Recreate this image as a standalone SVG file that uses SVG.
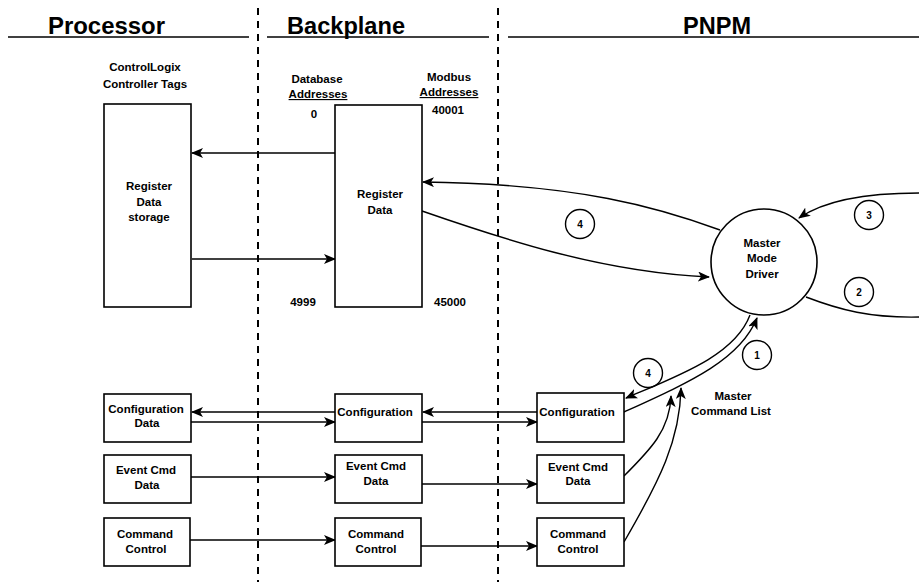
<svg xmlns="http://www.w3.org/2000/svg" width="919" height="582" viewBox="0 0 919 582">
<defs>
<style>
.t{font-family:"Liberation Sans",Arial,sans-serif;font-weight:bold;font-size:11.5px;fill:#000;text-anchor:middle}
.n{font-family:"Liberation Sans",Arial,sans-serif;font-weight:bold;font-size:10px;fill:#000;text-anchor:middle}
.h{font-family:"Liberation Sans",Arial,sans-serif;font-weight:bold;font-size:23px;fill:#000}
.box{fill:#fff;stroke:#000;stroke-width:1.6}
.c{fill:none;stroke:#000;stroke-width:1.4}
.a{fill:none;stroke:#000;stroke-width:1.4;marker-end:url(#ah)}
.dash{stroke:#000;stroke-width:2;stroke-dasharray:7,6}
.rule{stroke:#000;stroke-width:1.6}
</style>
<marker id="ah" viewBox="0 0 12 10" refX="11" refY="5" markerWidth="12" markerHeight="10" markerUnits="userSpaceOnUse" orient="auto">
<path d="M0,0 L12,5 L0,10 L3,5 z" fill="#000"/>
</marker>
</defs>
<rect width="919" height="582" fill="#fff"/>

<g id="sections">
<line class="dash" x1="258" y1="8" x2="258" y2="582"/>
<line class="dash" x1="498" y1="8" x2="498" y2="582"/>
<line class="rule" x1="8" y1="37" x2="249" y2="37"/>
<line class="rule" x1="267" y1="37" x2="489" y2="37"/>
<line class="rule" x1="508" y1="37" x2="919" y2="37"/>
<text class="h" x="48" y="34" textLength="117" lengthAdjust="spacingAndGlyphs">Processor</text>
<text class="h" x="287" y="34" textLength="118" lengthAdjust="spacingAndGlyphs">Backplane</text>
<text class="h" x="683" y="34" textLength="68" lengthAdjust="spacingAndGlyphs">PNPM</text>
</g>

<g id="connectors">
<line class="a" x1="335" y1="153" x2="192" y2="153"/>
<line class="a" x1="192" y1="259" x2="335" y2="259"/>
<path class="a" d="M720,230 C660,208 580,184 423,182"/>
<path class="a" d="M422,211 C500,238 600,272 709,277"/>
<path class="a" d="M919,193 C870,193 825,200 799,218"/>
<path class="c" d="M806,297 C840,310 870,318 919,317"/>
<path class="a" d="M624,412 C690,382 740,360 757,318"/>
<path class="a" d="M750,315 C735,355 680,375 626,398"/>
<path class="a" d="M624,476 C650,450 670,430 671,396"/>
<path class="a" d="M624,542 C660,480 680,440 681,388"/>
<line class="a" x1="335" y1="412" x2="192" y2="412"/>
<line class="a" x1="189" y1="422" x2="335" y2="422"/>
<line class="a" x1="537" y1="412" x2="423" y2="412"/>
<line class="a" x1="422" y1="422" x2="537" y2="422"/>
<line class="a" x1="191" y1="477" x2="335" y2="477"/>
<line class="a" x1="422" y1="484" x2="537" y2="484"/>
<line class="a" x1="190" y1="540" x2="335" y2="540"/>
<line class="a" x1="421" y1="546" x2="537" y2="546"/>
</g>

<g id="register-data-storage">
<text class="t" x="145" y="71">ControlLogix</text>
<text class="t" x="145" y="88">Controller Tags</text>
<rect class="box" x="104" y="104" width="87" height="203"/>
<text class="t" x="149" y="190">Register</text>
<text class="t" x="149" y="206">Data</text>
<text class="t" x="149" y="221">storage</text>
</g>

<g id="register-data">
<text class="t" x="317" y="83">Database</text>
<text class="t" x="318" y="98" text-decoration="underline">Addresses</text>
<text class="t" x="449" y="81">Modbus</text>
<text class="t" x="449" y="96" text-decoration="underline">Addresses</text>
<rect class="box" x="335" y="105" width="87" height="202"/>
<text class="t" x="380" y="198">Register</text>
<text class="t" x="380" y="214">Data</text>
<text class="t" x="314" y="118">0</text>
<text class="t" x="448" y="114">40001</text>
<text class="t" x="303" y="306">4999</text>
<text class="t" x="450" y="306">45000</text>
</g>

<g id="master-mode-driver">
<circle cx="764" cy="262" r="53" fill="#fff" stroke="#000" stroke-width="1.6"/>
<text class="t" x="762" y="247">Master</text>
<text class="t" x="762" y="262">Mode</text>
<text class="t" x="762" y="278">Driver</text>
</g>

<g id="step-labels">
<circle cx="580" cy="224" r="14.5" class="c"/><text class="n" x="580" y="228">4</text>
<circle cx="869" cy="215" r="14.5" class="c"/><text class="n" x="869" y="219">3</text>
<circle cx="859" cy="292" r="14.5" class="c"/><text class="n" x="859" y="296">2</text>
<circle cx="757" cy="355" r="14.5" class="c"/><text class="n" x="757" y="359">1</text>
<circle cx="648" cy="373" r="14.5" class="c"/><text class="n" x="648" y="377">4</text>
<text class="t" x="733" y="400">Master</text>
<text class="t" x="731" y="415">Command List</text>
</g>

<g id="proc-configuration-data">
<rect class="box" x="104" y="394" width="87" height="48"/>
<text class="t" x="146" y="413">Configuration</text>
<text class="t" x="147" y="427">Data</text>
</g>
<g id="proc-event-cmd-data">
<rect class="box" x="104" y="455" width="87" height="48"/>
<text class="t" x="146" y="474">Event Cmd</text>
<text class="t" x="147" y="489">Data</text>
</g>
<g id="proc-command-control">
<rect class="box" x="104" y="518" width="86" height="48"/>
<text class="t" x="145" y="538">Command</text>
<text class="t" x="146" y="553">Control</text>
</g>

<g id="bp-configuration">
<rect class="box" x="335" y="394" width="87" height="48"/>
<text class="t" x="375" y="416">Configuration</text>
</g>
<g id="bp-event-cmd-data">
<rect class="box" x="335" y="455" width="87" height="48"/>
<text class="t" x="376" y="470">Event Cmd</text>
<text class="t" x="376" y="485">Data</text>
</g>
<g id="bp-command-control">
<rect class="box" x="335" y="518" width="86" height="48"/>
<text class="t" x="376" y="538">Command</text>
<text class="t" x="376" y="553">Control</text>
</g>

<g id="pnpm-configuration">
<rect class="box" x="537" y="393" width="87" height="49"/>
<text class="t" x="577" y="416">Configuration</text>
</g>
<g id="pnpm-event-cmd-data">
<rect class="box" x="537" y="455" width="87" height="48"/>
<text class="t" x="578" y="471">Event Cmd</text>
<text class="t" x="578" y="485">Data</text>
</g>
<g id="pnpm-command-control">
<rect class="box" x="537" y="518" width="87" height="48"/>
<text class="t" x="578" y="538">Command</text>
<text class="t" x="578" y="553">Control</text>
</g>
</svg>
